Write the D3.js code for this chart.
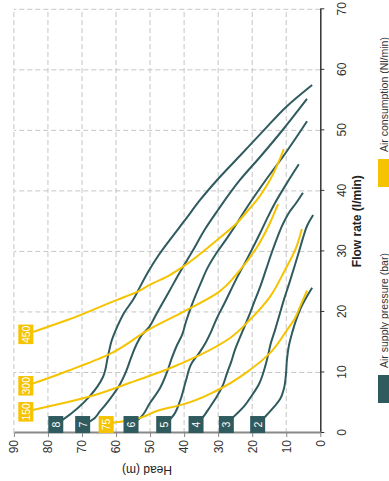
<!DOCTYPE html>
<html>
<head>
<meta charset="utf-8">
<script src="https://cdn.jsdelivr.net/npm/d3@7"></script>
<style>
  html, body { margin: 0; padding: 0; background: #fff; }
  svg { display: block; font-family: "Liberation Sans", Arial, sans-serif; }
</style>
</head>
<body>
<svg id="chart" width="389" height="481"></svg>
<script>
// Axis ticks
const flowTicks = [0, 10, 20, 30, 40, 50, 60, 70];
const headTicks = [0, 10, 20, 30, 40, 50, 60, 70, 80, 90];

// Pump curves per air supply pressure: [flow l/min, head m]
const bar8 = [[1.4,77.7],[2.2,75.6],[6.1,67.7],[9.3,63.8],[12.6,62.4],[15.4,61.2],[17.5,59.7],[19.8,57.7],[22.0,55.0],[24.1,53.0],[26.6,50.6],[29.2,47.7],[31.9,44.2],[35.2,39.7],[38.5,35.3],[41.8,30.3],[45.8,23.6],[49.7,17.1],[54.0,9.8],[57.5,2.4]];
const bar7 = [[1.4,69.8],[2.0,67.4],[3.6,64.7],[5.6,61.8],[7.8,59.1],[10.1,57.1],[12.4,55.6],[14.5,54.1],[16.2,52.4],[17.5,50.3],[19.5,48.3],[21.6,46.2],[23.6,44.2],[26.6,41.2],[29.9,37.7],[33.9,33.6],[36.8,30.1],[41.8,23.6],[45.6,17.7],[50.1,11.0],[55.2,3.9]];
const bar6 = [[1.4,55.6],[2.3,53.3],[5.0,50.0],[7.4,47.1],[10.1,45.0],[12.4,43.6],[14.5,42.1],[16.2,40.6],[18.3,39.5],[21.2,37.7],[24.5,35.3],[27.4,33.0],[29.9,30.3],[32.2,27.4],[34.9,24.2],[36.8,22.1],[38.5,20.1],[41.8,16.0],[46.1,10.4],[51.5,3.9]];
const bar5 = [[1.4,46.0],[2.6,43.6],[5.3,41.2],[8.6,39.5],[11.6,37.7],[13.2,35.6],[15.0,33.6],[16.7,32.1],[18.7,30.6],[21.6,28.0],[25.3,24.8],[29.1,21.2],[33.0,17.7],[35.7,15.4],[38.0,13.3],[41.3,9.8],[44.4,6.3]];
const bar4 = [[1.4,36.5],[2.6,34.5],[4.3,32.4],[6.1,30.3],[7.9,28.6],[9.9,27.4],[11.7,26.2],[13.7,25.1],[15.4,23.9],[17.0,22.7],[19.0,21.2],[21.5,19.5],[24.1,17.7],[26.9,16.0],[29.9,14.2],[32.2,12.7],[34.5,11.0],[36.4,9.2],[38.0,7.1],[39.7,5.1]];
const bar3 = [[1.4,27.6],[2.7,25.4],[4.4,22.4],[6.2,20.1],[8.1,18.0],[10.4,16.5],[12.7,15.4],[14.9,14.5],[17.0,13.3],[19.3,12.1],[22.0,10.7],[24.6,9.2],[27.3,7.7],[29.9,6.3],[32.2,5.1],[34.2,3.9],[36.0,2.1]];
const bar2 = [[1.4,18.4],[2.8,16.0],[4.3,13.6],[5.6,11.8],[7.3,10.7],[9.6,10.1],[12.1,9.8],[14.5,9.2],[16.5,8.3],[18.7,7.1],[20.7,5.7],[22.3,4.2],[24.0,2.4]];
const pressureNames = ["8", "7", "6", "5", "4", "3", "2"];

// Air consumption lines (Nl/min): [flow l/min, head m]
const air450 = [[16.3,86.5],[16.7,84.4],[18.7,74.1],[22.0,59.7],[23.3,53.8],[24.5,50.0],[26.1,44.2],[27.5,40.3],[31.9,30.3],[34.7,24.5],[36.8,21.2],[38.5,18.6],[41.8,14.8],[46.9,10.7]];
const air300 = [[7.8,86.5],[8.2,84.3],[10.4,73.5],[12.9,62.4],[17.2,50.0],[20.0,40.3],[23.1,30.3],[26.9,23.6],[30.7,18.6],[34.7,14.8],[37.8,12.4]];
const air150 = [[3.5,86.5],[3.8,84.4],[5.9,68.5],[8.3,55.9],[10.7,44.2],[12.9,35.3],[15.7,26.5],[18.7,20.7],[22.5,14.8],[26.9,10.4],[30.2,7.4],[33.7,5.4]];
const air75 = [[1.4,62.9],[1.7,60.9],[2.1,55.9],[3.8,47.1],[4.6,41.2],[7.1,30.1],[10.4,20.7],[13.2,14.8],[17.0,9.8],[19.0,7.4],[21.2,5.7],[23.5,3.9]];
const airNames = ["450", "300", "150", "75"];

const legendNames = ["Air supply pressure (bar)", "Air consumption (Nl/min)"];

const TEAL = "#2f5b5f";
const YELLOW = "#f5c300";

// The chart is laid out landscape (481 x 389) and turned a quarter turn
// counter-clockwise so the flow axis runs up the right-hand side.
const W = 481, H = 389;
const svg = d3.select("#chart");
const g = svg.append("g").attr("transform", `translate(0,${W}) rotate(-90)`);

const x = d3.scaleLinear().domain([0, 70]).range([48, 471.7]);
const y = d3.scaleLinear().domain([0, 90]).range([320.3, 13.9]);

// Dashed grid
const grid = g.append("g").attr("stroke", "#c6c6c6").attr("stroke-width", 1)
  .attr("stroke-dasharray", "5,3").attr("fill", "none");
grid.selectAll("line.v").data(flowTicks.filter(d => d > 0)).join("line")
  .attr("class", "v")
  .attr("x1", d => x(d)).attr("x2", d => x(d))
  .attr("y1", y(0)).attr("y2", y(90));
grid.selectAll("line.h").data(headTicks.filter(d => d > 0)).join("line")
  .attr("class", "h")
  .attr("x1", x(0)).attr("x2", x(70))
  .attr("y1", d => y(d)).attr("y2", d => y(d));

// Axes
const xAxis = g.append("g").attr("transform", `translate(0,${y(0)})`)
  .call(d3.axisBottom(x).tickValues(flowTicks).tickSize(4).tickSizeOuter(0).tickPadding(13));
xAxis.select(".domain").attr("stroke", "#333").attr("stroke-width", 1.5);
xAxis.selectAll(".tick line").attr("stroke", "#333");
xAxis.selectAll("text").attr("font-size", 12).attr("fill", "#333")
  .attr("font-family", "Liberation Sans, Arial, sans-serif");

const yAxis = g.append("g").attr("transform", `translate(${x(0)},0)`)
  .call(d3.axisLeft(y).tickValues(headTicks).tickSize(4).tickSizeOuter(0).tickPadding(3));
yAxis.select(".domain").attr("stroke", "#888").attr("stroke-width", 2);
yAxis.selectAll(".tick line").attr("stroke", "#888");
yAxis.selectAll("text").attr("font-size", 12).attr("fill", "#333")
  .attr("font-family", "Liberation Sans, Arial, sans-serif");

// Axis titles
g.append("text")
  .attr("x", (x(0) + x(70)) / 2).attr("y", 357)
  .attr("text-anchor", "middle").attr("dominant-baseline", "central")
  .attr("font-size", 12).attr("font-weight", "bold").attr("fill", "#222")
  .text("Flow rate (l/min)");
g.append("text")
  .attr("transform", `translate(11,147) rotate(-90)`)
  .attr("text-anchor", "middle").attr("dominant-baseline", "central")
  .attr("font-size", 12).attr("fill", "#222")
  .text("Head (m)");

// Curves
const line = d3.line().x(d => x(d[0])).y(d => y(d[1])).curve(d3.curveMonotoneX);
const pressureSeries = [bar8, bar7, bar6, bar5, bar4, bar3, bar2];
const airSeries = [air450, air300, air150, air75];

g.append("g").selectAll("path").data(pressureSeries).join("path")
  .attr("d", line).attr("fill", "none").attr("stroke", TEAL)
  .attr("stroke-width", 2).attr("stroke-linejoin", "round");
g.append("g").selectAll("path").data(airSeries).join("path")
  .attr("d", line).attr("fill", "none").attr("stroke", YELLOW)
  .attr("stroke-width", 2).attr("stroke-linejoin", "round");

// Name boxes at the start of each curve
function drawTags(series, names, color) {
  const tags = g.append("g").selectAll("g").data(series).join("g")
    .attr("transform", d => `translate(${x(d[0][0])},${y(d[0][1])})`);
  tags.append("text")
    .attr("text-anchor", "middle").attr("dominant-baseline", "central")
    .attr("font-size", 10.5).attr("fill", "#fff")
    .text((d, i) => names[i]);
  tags.each(function () {
    const t = d3.select(this).select("text");
    const w = Math.max(17, t.node().getComputedTextLength() + 2);
    d3.select(this).insert("rect", "text")
      .attr("x", -w / 2).attr("y", -7.5).attr("width", w).attr("height", 15)
      .attr("fill", color);
  });
}
drawTags(pressureSeries, pressureNames, TEAL);
drawTags(airSeries, airNames, YELLOW);

// Legend
const legendItems = [
  { name: legendNames[0], color: TEAL, x0: 78 },
  { name: legendNames[1], color: YELLOW, x0: 294 }
];
const lg = g.append("g").selectAll("g").data(legendItems).join("g");
lg.append("rect").attr("x", d => d.x0).attr("y", 378).attr("width", 28).attr("height", 14)
  .attr("fill", d => d.color);
lg.append("text").attr("x", d => d.x0 + 35).attr("y", 384)
  .attr("dominant-baseline", "central").attr("font-size", 10.5).attr("fill", "#333")
  .text(d => d.name);
</script>
</body>
</html>
